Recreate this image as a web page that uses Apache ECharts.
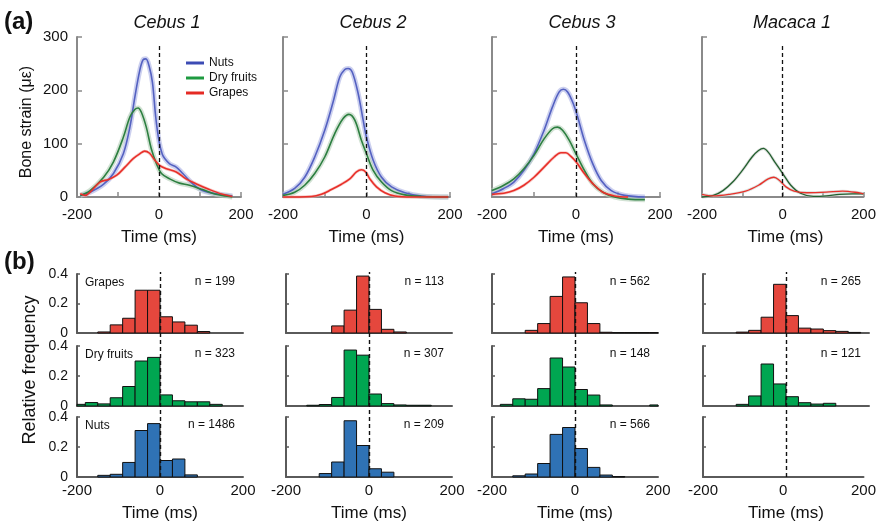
<!DOCTYPE html>
<html><head><meta charset="utf-8">
<script src="https://cdn.jsdelivr.net/npm/echarts@6/dist/echarts.min.js"></script>
<style>html,body{margin:0;padding:0;background:#fff}#c{width:879px;height:522px}</style>
</head><body><div id="c"></div><script>
// ---------- labels ----------
const panelTitles = ['Cebus 1', 'Cebus 2', 'Cebus 3', 'Macaca 1'];
const foodNames = ['Nuts', 'Dry fruits', 'Grapes'];
const histRowNames = ['Grapes', 'Dry fruits', 'Nuts'];
const timeTicks = [-200, 0, 200];
const strainTicks = [0, 100, 200, 300];
const freqTicks = [0, 0.2, 0.4];

// ---------- (a) mean bone strain curves: [time ms, strain με] ----------
const cebus1Nuts = [[-192,3],[-168,9],[-135,24],[-111,44],[-87,81],[-71,131],[-59,187],[-47,237],[-39,257],[-32,259],[-24,245],[-16,215],[-8,150],[0,105],[8,80],[14,72],[26,62],[42,56],[58,44],[82,25],[106,12],[139,6],[179,2]];
const cebus1Dry = [[-192,3],[-168,12],[-135,37],[-111,66],[-87,112],[-71,150],[-59,164],[-51,167],[-43,159],[-31,131],[-19,91],[-6,62],[6,44],[26,34],[50,26],[74,22],[106,14],[139,5],[171,1],[179,0]];
const cebus1Grapes = [[-192,6],[-180,3],[-168,9],[-144,28],[-123,33],[-103,41],[-83,56],[-63,72],[-47,81],[-35,86],[-23,82],[-10,69],[2,59],[18,53],[42,47],[66,34],[90,25],[123,14],[155,5],[179,1]];

const cebus2Nuts = [[-200,5],[-172,16],[-148,37],[-124,75],[-100,125],[-80,178],[-64,225],[-52,239],[-44,241],[-34,234],[-20,194],[-8,144],[0,112],[16,69],[36,37],[60,19],[92,8],[132,2],[196,0]];
const cebus2Dry = [[-200,3],[-172,9],[-148,22],[-124,44],[-100,75],[-76,119],[-56,147],[-42,155],[-28,144],[-12,106],[0,81],[16,50],[36,28],[60,12],[92,4],[132,1],[196,0]];
const cebus2Grapes = [[-200,0],[-132,1],[-108,5],[-84,14],[-60,24],[-40,34],[-24,47],[-12,51],[-2,47],[8,34],[24,19],[44,8],[68,2],[108,0],[196,0]];

const cebus3Nuts = [[-200,6],[-172,16],[-148,28],[-124,50],[-100,81],[-76,125],[-56,169],[-40,197],[-30,202],[-20,197],[-8,178],[4,150],[20,106],[40,62],[60,31],[84,12],[116,3],[164,0]];
const cebus3Dry = [[-200,12],[-172,22],[-148,34],[-124,53],[-100,78],[-76,109],[-56,128],[-44,131],[-32,125],[-16,106],[0,81],[20,50],[40,25],[64,9],[92,0],[124,-4],[164,-5]];
const cebus3Grapes = [[-200,5],[-172,7],[-148,12],[-124,22],[-100,37],[-76,56],[-52,75],[-36,83],[-24,83],[-12,76],[0,66],[20,44],[40,25],[64,9],[92,2],[124,0]];

const macaca1Dry = [[-200,0],[-172,3],[-148,12],[-124,28],[-100,50],[-76,75],[-60,87],[-48,91],[-36,84],[-20,66],[0,44],[20,22],[44,7],[76,1],[108,2],[140,5],[172,6],[200,6]];
const macaca1Grapes = [[-200,5],[-172,2],[-132,5],[-92,11],[-60,22],[-36,34],[-22,37],[-8,31],[8,19],[28,11],[60,8],[108,9],[148,11],[188,8],[200,6]];

// ---------- (b) histograms: relative frequency per 30 ms bin ----------
const binStarts = [-210,-180,-150,-120,-90,-60,-30,0,30,60,90,120,150,180];
const binWidth = 30;
const c1Grapes = [0,0,0.007,0.055,0.10,0.29,0.29,0.11,0.075,0.053,0.01,0,0,0];
const c1Dry    = [0.011,0.023,0.014,0.055,0.13,0.30,0.324,0.074,0.035,0.028,0.028,0.011,0,0];
const c1Nuts   = [0,0,0.011,0.018,0.097,0.31,0.356,0.11,0.12,0.014,0,0,0,0];
const c2Grapes = [0,0,0,0,0.048,0.155,0.386,0.16,0.025,0.007,0,0,0,0];
const c2Dry    = [0,0,0.005,0.01,0.057,0.373,0.339,0.08,0.016,0.007,0.005,0.005,0,0];
const c2Nuts   = [0,0,0,0.023,0.10,0.375,0.21,0.055,0.032,0,0,0,0,0];
const c3Grapes = [0,0,0,0.018,0.064,0.248,0.38,0.205,0.064,0.005,0.003,0.003,0.003,0.003];
const c3Dry    = [0,0.011,0.048,0.045,0.116,0.32,0.26,0.11,0.073,0.007,0,0,0,0.007];
const c3Nuts   = [0,0,0.008,0.02,0.09,0.284,0.33,0.19,0.064,0.013,0.003,0,0,0];
const c4Grapes = [0,0,0,0.006,0.018,0.107,0.33,0.118,0.033,0.027,0.016,0.011,0.004,0];
const c4Dry    = [0,0,0,0.011,0.067,0.28,0.147,0.062,0.022,0.013,0.018,0,0,0];
const c4Nuts   = [];
const nCounts = [[199,323,1486],[113,307,209],[562,148,566],[265,121,null]];

// ---------- build ----------
const FONT = '"Liberation Sans", Arial, sans-serif';
const strainSets = [
  [cebus1Nuts, cebus1Dry, cebus1Grapes],
  [cebus2Nuts, cebus2Dry, cebus2Grapes],
  [cebus3Nuts, cebus3Dry, cebus3Grapes],
  [null, macaca1Dry, macaca1Grapes]
];
const histSets = [
  [c1Grapes, c1Dry, c1Nuts],
  [c2Grapes, c2Dry, c2Nuts],
  [c3Grapes, c3Dry, c3Nuts],
  [c4Grapes, c4Dry, c4Nuts]
];
const lineColors = ['#5461c1', '#2c7f40', '#e8302a'];
const legendColors = ['#3c4bb4', '#1e9a40', '#e52a24'];
const bandColors = ['#aab0e4', '#b4cfb8', '#f4a8a4'];
const macacaGreen = '#225f2e';
const histColors = ['#e5473d', '#00a651', '#2f72b5'];

const topLefts = [77, 283, 492, 702];
const topWidths = [164, 167, 168, 167];
const histLefts = [77, 286, 492, 703];
const histRows = [{top: 274, height: 59}, {top: 346, height: 60}, {top: 417, height: 60}];
const titleX = [167, 373, 582, 792];

const grid = [], xAxis = [], yAxis = [], series = [], graphic = [];
const axisGray = '#8a8a8a', histAxis = '#5a5a5a';

function histRender(color) {
  return function (params, api) {
    const cs = params.coordSys;
    const p0 = api.coord([api.value(0), api.value(2)]);
    const p1 = api.coord([api.value(1), 0]);
    const x0 = Math.max(p0[0], cs.x), x1 = Math.min(p1[0], cs.x + cs.width);
    if (x1 <= x0) return;
    return {type: 'rect', shape: {x: x0, y: p0[1], width: x1 - x0, height: p1[1] - p0[1]},
      style: {fill: color, stroke: '#111', lineWidth: 1}};
  };
}

for (let c = 0; c < 4; c++) {
  // ---- top strain panel ----
  let gi = grid.length;
  grid.push({left: topLefts[c], top: 37, width: topWidths[c], height: 160});
  xAxis.push({gridIndex: gi, type: 'value', min: -200, max: 200, interval: 100,
    axisLine: {show: true, onZero: false, lineStyle: {color: axisGray, width: 2}},
    axisTick: {show: true, inside: true, length: 5, lineStyle: {color: axisGray, width: 1.5}},
    axisLabel: {margin: 10, fontSize: 15, color: '#111', fontFamily: FONT,
      formatter: v => timeTicks.includes(v) ? String(v) : ''},
    splitLine: {show: false}});
  yAxis.push({gridIndex: gi, type: 'value', min: 0, max: 300, interval: 100,
    axisLine: {show: true, onZero: false, lineStyle: {color: axisGray, width: 2}},
    axisTick: {show: true, inside: true, length: 5, lineStyle: {color: axisGray, width: 1.5}},
    axisLabel: {show: c === 0, margin: 9, fontSize: 15, color: '#111', fontFamily: FONT,
      formatter: v => strainTicks.includes(v) ? String(v) : ''},
    splitLine: {show: false}});
  strainSets[c].forEach((data, k) => {
    if (!data) return;
    const col = (c === 3 && k === 1) ? macacaGreen : lineColors[k];
    series.push({type: 'line', xAxisIndex: gi, yAxisIndex: gi, data: data, smooth: 0.35,
      showSymbol: false, silent: true, clip: false, z: 1,
      lineStyle: {color: (c === 3 ? '#c4c9c4' : bandColors[k]), width: (k === 2 || c === 3 ? 3 : 5), opacity: 0.6}});
    series.push({name: foodNames[k], type: 'line', xAxisIndex: gi, yAxisIndex: gi, data: data, smooth: 0.35,
      showSymbol: false, silent: true, clip: false, z: 2,
      itemStyle: {color: c === 0 ? legendColors[k] : col},
      lineStyle: {color: col, width: (c === 3 ? 1.3 : 1.6)}});
  });
  series.push({type: 'line', xAxisIndex: gi, yAxisIndex: gi, data: [], silent: true,
    markLine: {silent: true, symbol: ['none', 'none'], label: {show: false},
      lineStyle: {type: [4, 3], color: '#111', width: 1.3},
      data: [[{coord: [0, 0]}, {coord: [0, 285]}]]}});

  // ---- histogram panels ----
  for (let r = 0; r < 3; r++) {
    gi = grid.length;
    grid.push({left: histLefts[c], top: histRows[r].top, width: 166, height: histRows[r].height});
    xAxis.push({gridIndex: gi, type: 'value', min: -200, max: 200, interval: 200,
      axisLine: {show: true, onZero: false, lineStyle: {color: histAxis, width: 2}},
      axisTick: {show: false},
      axisLabel: {show: r === 2, margin: 6, fontSize: 15, color: '#111', fontFamily: FONT,
        formatter: v => timeTicks.includes(v) ? String(v) : ''},
      splitLine: {show: false}});
    yAxis.push({gridIndex: gi, type: 'value', min: 0, max: 0.4, interval: 0.2,
      axisLine: {show: true, onZero: false, lineStyle: {color: histAxis, width: 2}},
      axisTick: {show: true, inside: true, length: 3, lineStyle: {color: histAxis, width: 1.5}},
      axisLabel: {show: c === 0, margin: 9, fontSize: 14, color: '#111', fontFamily: FONT,
        formatter: v => { const t = freqTicks.find(f => Math.abs(f - v) < 1e-6); return t === undefined ? '' : (t === 0 ? '0' : t.toFixed(1)); }},
      splitLine: {show: false}});
    const vals = histSets[c][r];
    const colr = histColors[r];
    series.push({type: 'custom', xAxisIndex: gi, yAxisIndex: gi, silent: true,
      data: binStarts.map((b, i) => [b, b + binWidth, vals[i] || 0]).filter(d => d[2] > 0),
      renderItem: histRender(colr), z: 2});
    if (nCounts[c][r] !== null) {
      graphic.push({type: 'text', x: histLefts[c] + 158, y: histRows[r].top + 8,
        style: {text: 'n = ' + nCounts[c][r], font: '12px ' + FONT, fill: '#111', align: 'right', verticalAlign: 'middle'}});
    }
    if (c === 0) {
      graphic.push({type: 'text', x: 85, y: histRows[r].top + 9,
        style: {text: histRowNames[r], font: '12px ' + FONT, fill: '#111', align: 'left', verticalAlign: 'middle'}});
    }
  }
  // ---- dashed zero line across the three histograms ----
  gi = grid.length;
  grid.push({left: histLefts[c], top: 272, width: 166, height: 205});
  xAxis.push({gridIndex: gi, type: 'value', min: -200, max: 200, show: false});
  yAxis.push({gridIndex: gi, type: 'value', min: 0, max: 1, show: false});
  series.push({type: 'line', xAxisIndex: gi, yAxisIndex: gi, data: [], silent: true, z: 5,
    markLine: {silent: true, symbol: ['none', 'none'], label: {show: false},
      lineStyle: {type: [4, 3], color: '#111', width: 1.4},
      data: [{xAxis: 0}]}});

  // ---- text ----
  graphic.push({type: 'text', x: titleX[c], y: 23,
    style: {text: panelTitles[c], font: 'italic 18px ' + FONT, fill: '#111', align: 'center', verticalAlign: 'middle'}});
  graphic.push({type: 'text', x: topLefts[c] + topWidths[c] / 2, y: 237,
    style: {text: 'Time (ms)', font: '17px ' + FONT, fill: '#111', align: 'center', verticalAlign: 'middle'}});
  graphic.push({type: 'text', x: histLefts[c] + 83, y: 513,
    style: {text: 'Time (ms)', font: '17px ' + FONT, fill: '#111', align: 'center', verticalAlign: 'middle'}});
}

graphic.push({type: 'text', x: 4, y: 22, style: {text: '(a)', font: 'bold 24px ' + FONT, fill: '#111', align: 'left', verticalAlign: 'middle'}});
graphic.push({type: 'text', x: 4, y: 262, style: {text: '(b)', font: 'bold 24px ' + FONT, fill: '#111', align: 'left', verticalAlign: 'middle'}});
graphic.push({type: 'text', x: 27, y: 122, rotation: Math.PI / 2,
  style: {text: 'Bone strain (\u03bc\u03b5)', font: '16px ' + FONT, fill: '#111', align: 'center', verticalAlign: 'middle'}});
graphic.push({type: 'text', x: 30, y: 370, rotation: Math.PI / 2,
  style: {text: 'Relative frequency', font: '18px ' + FONT, fill: '#111', align: 'center', verticalAlign: 'middle'}});

const chart = echarts.init(document.getElementById('c'));
chart.setOption({
  animation: false,
  backgroundColor: '#fff',
  grid, xAxis, yAxis, series, graphic,
  legend: {data: foodNames, orient: 'vertical', left: 186, top: 57, itemWidth: 18, itemHeight: 3,
    icon: 'rect', itemGap: 3, padding: 0, selectedMode: false,
    textStyle: {fontSize: 12, color: '#111', fontFamily: FONT}}
});
</script></body></html>
